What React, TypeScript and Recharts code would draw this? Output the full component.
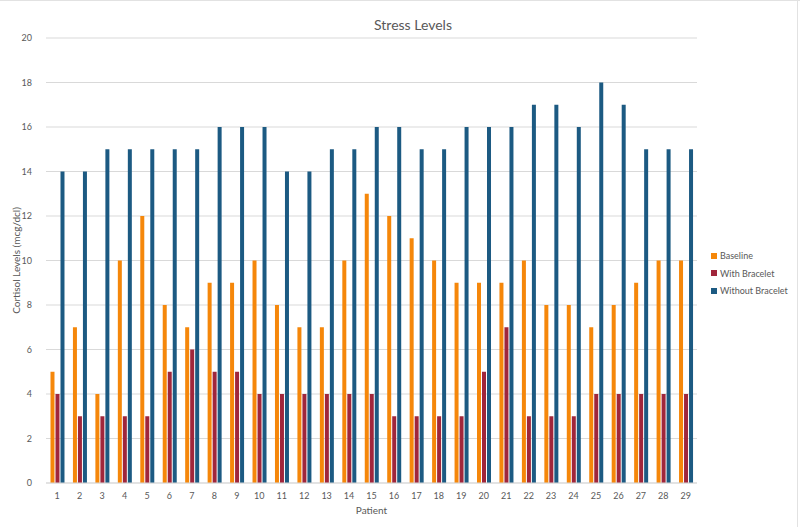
import React from 'react';
import { BarChart, Bar, XAxis, YAxis, CartesianGrid } from 'recharts';

const patients = ['1', '2', '3', '4', '5', '6', '7', '8', '9', '10', '11', '12', '13', '14', '15', '16', '17', '18', '19', '20', '21', '22', '23', '24', '25', '26', '27', '28', '29'];
const baseline = [5, 7, 4, 10, 12, 8, 7, 9, 9, 10, 8, 7, 7, 10, 13, 12, 11, 10, 9, 9, 9, 10, 8, 8, 7, 8, 9, 10, 10];
const withBracelet = [4, 3, 3, 3, 3, 5, 6, 5, 5, 4, 4, 4, 4, 4, 4, 3, 3, 3, 3, 5, 7, 3, 3, 3, 4, 4, 4, 4, 4];
const withoutBracelet = [14, 14, 15, 15, 15, 15, 15, 16, 16, 16, 14, 14, 15, 15, 16, 16, 15, 15, 16, 16, 16, 17, 17, 16, 18, 17, 15, 15, 15];
const yTicks = [0, 2, 4, 6, 8, 10, 12, 14, 16, 18, 20];

const series = [
  { key: 'baseline', name: 'Baseline', color: '#F5870A' },
  { key: 'withBracelet', name: 'With Bracelet', color: '#A0263B' },
  { key: 'withoutBracelet', name: 'Without Bracelet', color: '#1C5A82' },
];

const data = patients.map((p, i) => ({
  patient: p,
  baseline: baseline[i],
  withBracelet: withBracelet[i],
  withoutBracelet: withoutBracelet[i],
}));

const font = 'Lato, "Open Sans", sans-serif';
const textColor = '#595959';

function Legend() {
  return (
    <div style={{ position: 'absolute', left: 711, top: 247, fontFamily: font, fontSize: 9, color: textColor }}>
      {series.map((s) => (
        <div key={s.key} style={{ display: 'flex', alignItems: 'center', height: 17.5 }}>
          <span style={{ width: 6, height: 6, background: s.color, marginRight: 3, display: 'inline-block' }} />
          <span>{s.name}</span>
        </div>
      ))}
    </div>
  );
}

export default function App() {
  return (
    <div style={{ position: 'absolute', left: 0, top: 0, width: 800, height: 527, background: '#fff', fontFamily: font }}>
      <div style={{ position: 'absolute', left: 0, top: 0, width: 800, height: 1, background: '#e2e2e2' }} />
      <div style={{ position: 'absolute', left: 797, top: 0, width: 1, height: 527, background: '#e2e2e2' }} />
      <div style={{ position: 'absolute', left: 0, top: 16, width: 826, textAlign: 'center', fontSize: 14, color: textColor }}>
        Stress Levels
      </div>
      <BarChart
        width={800}
        height={527}
        data={data}
        margin={{ top: 38, right: 103, left: 0, bottom: 0 }}
        barCategoryGap="20%"
        barGap={1}
      >
        <CartesianGrid vertical={false} stroke="#d9d9d9" />
        <XAxis
          dataKey="patient"
          height={44}
          tickLine={false}
          axisLine={{ stroke: '#d9d9d9' }}
          tick={{ fill: textColor, fontSize: 9, fontFamily: font }}
          tickMargin={4}
          interval={0}
          label={{ value: 'Patient', position: 'insideBottom', offset: 13, fill: textColor, fontSize: 10, fontFamily: font }}
        />
        <YAxis
          width={46}
          domain={[0, 20]}
          ticks={yTicks}
          tickLine={false}
          axisLine={false}
          tick={{ fill: textColor, fontSize: 9, fontFamily: font }}
          tickMargin={8}
          label={{
            value: 'Cortisol Levels (mcg/dcl)',
            angle: -90,
            position: 'insideLeft',
            offset: 16,
            fill: textColor,
            fontSize: 10,
            fontFamily: font,
            style: { textAnchor: 'middle' },
          }}
        />
        {series.map((s) => (
          <Bar key={s.key} dataKey={s.key} name={s.name} fill={s.color} isAnimationActive={false} />
        ))}
      </BarChart>
      <Legend />
    </div>
  );
}
